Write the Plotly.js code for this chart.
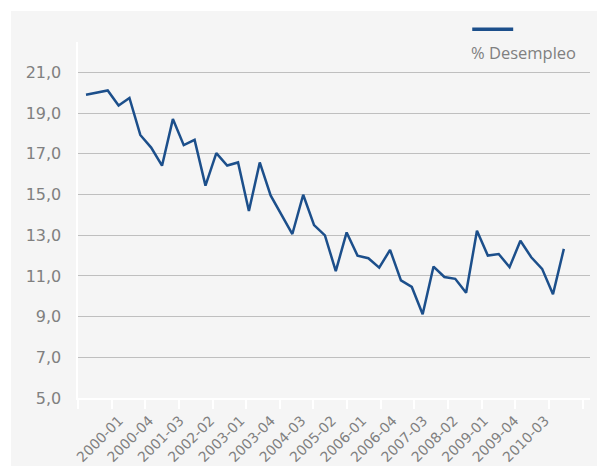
<!DOCTYPE html>
<html><head><meta charset="utf-8">
<script src="https://cdn.plot.ly/plotly-3.0.1.min.js"></script>
<style>html,body{margin:0;padding:0;background:#ffffff;} #chart{position:absolute;left:11px;top:11px;width:586px;height:455px;}</style>
</head><body><div id="chart"></div>
<script>
// ---- data ----
const seriesName = '% Desempleo';
const unemployment = [19.91, 20.01, 20.12, 19.38, 19.75, 17.93, 17.31, 16.42, 18.71, 17.43,
  17.69, 15.44, 17.04, 16.43, 16.58, 14.19, 16.58, 14.96, 14.01, 13.06,
  14.99, 13.50, 12.99, 11.24, 13.14, 12.00, 11.87, 11.41, 12.28, 10.78,
  10.46, 9.12, 11.46, 10.95, 10.86, 10.17, 13.22, 12.00, 12.08, 11.43,
  12.73, 11.92, 11.35, 10.10, 12.33];
const periodLabels = ['2000-01','2000-04','2001-03','2002-02','2003-01','2003-04','2004-03',
  '2005-02','2006-01','2006-04','2007-03','2008-02','2009-01','2009-04','2010-03'];
const yTicks = [5, 7, 9, 11, 13, 15, 17, 19, 21];

// ---- layout constants (pixels) ----
const PLOT_W = 512, PLOT_H = 356;
const POINT_OFFSET = 8, POINT_STEP = 10.86;
const TICK_STEP = 33.64, TICK_COUNT = 16;
const LABEL_OFFSET = 41, LABEL_STEP = 30.43;

const xIdx = unemployment.map((_, i) => i);
const toX = px => (px - POINT_OFFSET) / POINT_STEP;
const xRange = [toX(0), toX(PLOT_W)];
const labelVals = periodLabels.map((_, j) => toX(LABEL_OFFSET + j * LABEL_STEP));
const tickVals = Array.from({length: TICK_COUNT}, (_, k) => toX(k * TICK_STEP));

const grey = '#808080';
const lineColor = '#1c4f8b';

const trace = {
  x: xIdx, y: unemployment, type: 'scatter', mode: 'lines', name: seriesName,
  line: {color: lineColor, width: 2.5}, showlegend: false
};

const layout = {
  width: 586, height: 455,
  margin: {l: 67, r: 7, t: 31, b: 68},
  paper_bgcolor: '#f5f5f5', plot_bgcolor: '#f5f5f5',
  separators: ',.',
  showlegend: false,
  xaxis: {
    range: xRange, tickmode: 'array', tickvals: labelVals, ticktext: periodLabels,
    tickangle: -45, ticks: 'outside', ticklen: 7, tickcolor: 'rgba(0,0,0,0)',
    minor: {tickmode: 'array', tickvals: tickVals, ticks: 'outside', ticklen: 9,
            tickwidth: 2, tickcolor: '#ffffff', showgrid: false},
    showgrid: false, zeroline: false, showline: true, linecolor: '#ffffff', linewidth: 2,
    tickfont: {family: 'DejaVu Sans', size: 14, color: grey}
  },
  yaxis: {
    range: [5, 22.5], tickmode: 'array', tickvals: yTicks, tickformat: '.1f',
    gridcolor: '#bfbfbf', gridwidth: 1, zeroline: false,
    showline: true, linecolor: '#ffffff', linewidth: 2,
    ticks: 'outside', ticklen: 11.5, tickcolor: 'rgba(0,0,0,0)',
    tickfont: {family: 'DejaVu Sans', size: 16, color: grey}
  },
  shapes: [{
    type: 'line', xref: 'paper', yref: 'paper',
    x0: 0.770, x1: 0.850, y0: 1.036, y1: 1.036,
    line: {color: lineColor, width: 3.5}
  }],
  annotations: [{
    text: seriesName, xref: 'paper', yref: 'paper', x: 0.764, y: 0.971,
    xanchor: 'left', yanchor: 'middle', showarrow: false,
    font: {family: 'Open Sans', size: 16.5, color: grey}
  }]
};

Plotly.newPlot('chart', [trace], layout, {displayModeBar: false, staticPlot: true});
</script>
</body></html>
